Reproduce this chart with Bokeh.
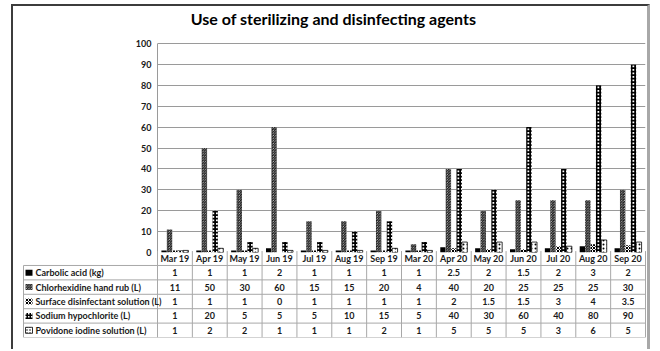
from bokeh.plotting import figure
from bokeh.models import Range1d, FixedTicker, ColumnDataSource, Label
from bokeh.transform import dodge
from bokeh.core.properties import value
from bokeh.embed import file_html
from bokeh.resources import INLINE

# ---------------- data ----------------
months = ["Mar 19", "Apr 19", "May 19", "Jun 19", "Jul 19", "Aug 19", "Sep 19",
          "Mar 20", "Apr 20", "May 20", "Jun 20", "Jul 20", "Aug 20", "Sep 20"]
carbolic = [1, 1, 1, 2, 1, 1, 1, 1, 2.5, 2, 1.5, 2, 3, 2]
chlorhexidine = [11, 50, 30, 60, 15, 15, 20, 4, 40, 20, 25, 25, 25, 30]
surface = [1, 1, 1, 0, 1, 1, 1, 1, 2, 1.5, 1.5, 3, 4, 3.5]
sodium = [1, 20, 5, 5, 5, 10, 15, 5, 40, 30, 60, 40, 80, 90]
povidone = [1, 2, 2, 1, 1, 1, 2, 1, 5, 5, 5, 3, 6, 5]
series_names = ["Carbolic acid (kg)", "Chlorhexidine hand rub (L)",
                "Surface disinfectant solution (L)", "Sodium hypochlorite (L)",
                "Povidone iodine solution (L)"]
y_ticks = [0, 10, 20, 30, 40, 50, 60, 70, 80, 90, 100]
title_text = "Use of sterilizing and disinfecting agents"

series = [carbolic, chlorhexidine, surface, sodium, povidone]
styles = [
    dict(fill_color="black", hatch_pattern=None, line_color=None),
    dict(fill_color="white", hatch_pattern="left_diagonal_line", hatch_scale=2.6, hatch_weight=0.9, line_color=None),
    dict(fill_color="white", hatch_pattern="diagonal_cross", hatch_scale=3.0, hatch_weight=1.0, line_color=None),
    dict(fill_color="white", hatch_pattern="cross", hatch_scale=3.5, hatch_weight=2.0, line_color=None),
    dict(fill_color="white", hatch_pattern="dot", hatch_scale=4.0, hatch_weight=2.5, line_color="black"),
]

FONT = "Lato"
TXT = "#1a1a1a"
GRID = "#9a9a9a"
TABLE_LINE = "#a8a8a8"
BORDER_DARK = "2px solid #3c3c3c"
BORDER_LIGHT = "3px solid #a8a8a8"

n = len(months)
xs = list(range(n))

# ---------------- layout constants (pixels, page coordinates) ----------------
X0, Y0 = 13, 6          # inner top-left of chart area
INNER_W = 639
FIG1_H = 253
FRAME_L, FRAME_R = 157, 645
FRAME_TOP = 8           # frame extends above the 100 line to host the title
Y100, Y0LINE = 43, 252  # pixel rows of the 100 and 0 gridlines
TITLE_CX, TITLE_CY = 333, 18
PX_PER_UNIT = (FRAME_R - FRAME_L) / n
PX_PER_VAL = (Y0LINE - Y100) / 100.0
y_top = 100 + (Y100 - FRAME_TOP) / PX_PER_VAL

# ---------------- chart ----------------
p = figure(width=INNER_W, height=FIG1_H, output_backend="svg", toolbar_location=None,
           x_range=Range1d(-0.5, n - 0.5), y_range=Range1d(0, y_top),
           min_border_left=FRAME_L - X0, min_border_right=X0 + INNER_W - FRAME_R,
           min_border_top=FRAME_TOP - Y0, min_border_bottom=Y0 + FIG1_H - Y0LINE)
p.add_layout(Label(x=TITLE_CX - FRAME_L, y=Y0LINE - TITLE_CY, x_units="screen", y_units="screen",
                   text=title_text, text_align="center", text_baseline="middle",
                   text_font=FONT, text_font_style="bold", text_font_size="16px",
                   text_color="black"))

p.xaxis.visible = False
p.xgrid.visible = False
p.ygrid.ticker = FixedTicker(ticks=y_ticks)
p.ygrid.grid_line_color = GRID
p.ygrid.grid_line_width = 1
p.yaxis.ticker = FixedTicker(ticks=y_ticks)
p.yaxis.bounds = (0, 100)
p.yaxis.major_tick_out = 0
p.yaxis.major_tick_in = 0
p.yaxis.minor_tick_out = 0
p.yaxis.minor_tick_in = 0
p.yaxis.axis_line_color = GRID
p.yaxis.major_label_text_font = FONT
p.yaxis.major_label_text_font_style = "bold"
p.yaxis.major_label_text_font_size = "9px"
p.yaxis.major_label_text_color = TXT
p.yaxis.major_label_standoff = 6
p.outline_line_color = None
p.styles = {"margin-left": "11px", "margin-top": "4px",
            "border-left": BORDER_DARK, "border-top": BORDER_DARK, "border-right": BORDER_LIGHT}

bw = 0.155
src = ColumnDataSource(dict(x=xs, s0=carbolic, s1=chlorhexidine, s2=surface, s3=sodium, s4=povidone))
for i, st in enumerate(styles):
    kw = dict(st)
    if kw.get("hatch_pattern") is None:
        kw.pop("hatch_pattern")
    else:
        kw["hatch_color"] = "black"
    p.vbar(x=dodge("x", (i - 2) * bw), top="s%d" % i, bottom=0, width=bw, source=src,
           line_width=0.8, **kw)

# ---------------- data table ----------------
T_L = 22
T_R = 646
tab_left = -0.5 - (FRAME_L - 23) / PX_PER_UNIT
x_end = n - 0.5 + (T_R - FRAME_R) / PX_PER_UNIT
x_start = x_end - (T_R - T_L) / PX_PER_UNIT
t = figure(width=INNER_W, height=99, output_backend="svg", toolbar_location=None,
           x_range=Range1d(x_start, x_end), y_range=Range1d(6.0, -0.04),
           min_border_left=T_L - X0, min_border_right=X0 + INNER_W - T_R,
           min_border_top=0, min_border_bottom=12)
t.axis.visible = False
t.grid.visible = False
t.outline_line_color = None
t.background_fill_color = None
t.border_fill_color = None
t.styles = {"margin-left": "11px", "margin-top": "-7px",
            "border-left": BORDER_DARK, "border-right": BORDER_LIGHT}

# grid lines
vx = [i - 0.5 for i in range(n + 1)]
t.segment(x0=vx, y0=[0] * len(vx), x1=vx, y1=[6] * len(vx), line_color=TABLE_LINE, line_width=1)
t.segment(x0=[tab_left], y0=[1], x1=[tab_left], y1=[6], line_color=TABLE_LINE, line_width=1)
hy = [1, 2, 3, 4, 5, 6]
t.segment(x0=[tab_left] * len(hy), y0=hy, x1=[n - 0.5] * len(hy), y1=hy, line_color=TABLE_LINE, line_width=1)

txt_kw = dict(text_font=value(FONT), text_font_style="bold", text_font_size="9px",
              text_color=TXT, text_baseline="middle")
t.text(x=xs, y=[0.5] * n, text=months, text_align="center", **txt_kw)


def fmt(v):
    return str(int(v)) if float(v).is_integer() else str(v)


for r, vals in enumerate(series):
    t.text(x=xs, y=[r + 1.5] * n, text=[fmt(v) for v in vals], text_align="center", **txt_kw)

key_x = tab_left + 5.5 / PX_PER_UNIT
lab_x = tab_left + 12 / PX_PER_UNIT
rows_y = [r + 1.5 for r in range(len(series_names))]
t.text(x=[lab_x] * len(series_names), y=rows_y, text=series_names, text_align="left", **txt_kw)
for r, st in enumerate(styles):
    kw = dict(st)
    if kw.get("hatch_pattern") is None:
        kw.pop("hatch_pattern")
    else:
        kw["hatch_color"] = "black"
        kw["hatch_scale"] = min(kw["hatch_scale"], 3)
    t.rect(x=[key_x], y=[r + 1.5], width=7, height=6, width_units="screen", height_units="screen",
           line_width=0.8, **kw)

open("out.html", "w").write(file_html([p, t], INLINE))
